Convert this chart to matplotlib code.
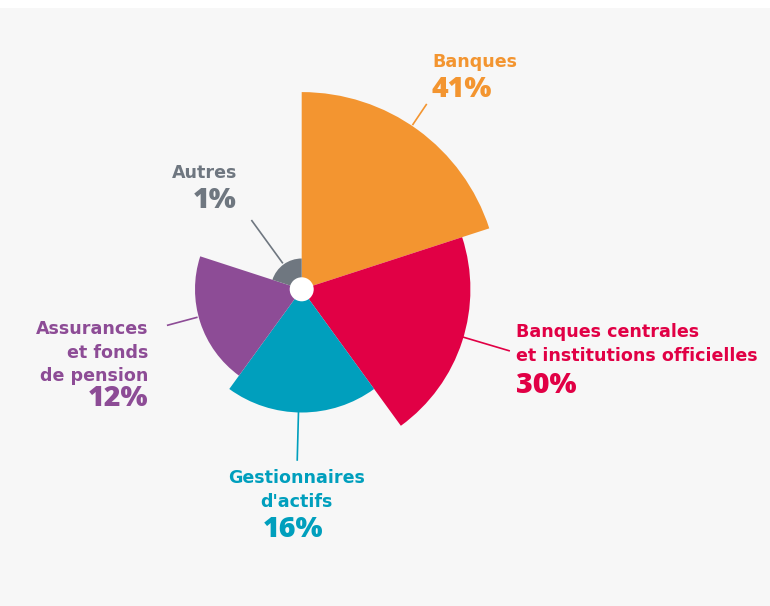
import numpy as np
import matplotlib
matplotlib.use("Agg")
import matplotlib.pyplot as plt

# data
categories = ["Banques", "Banques centrales\net institutions officielles",
              "Gestionnaires\nd'actifs", "Assurances\net fonds\nde pension", "Autres"]
shares = [41, 30, 16, 12, 1]
pct_labels = ["41%", "30%", "16%", "12%", "1%"]
colors = ["#F39530", "#E10045", "#009FBD", "#8D4C96", "#6F7780"]

W, H = 770, 606
BG = "#F7F7F7"

plt.rcParams['font.family'] = ['Open Sans', 'DejaVu Sans']

fig = plt.figure(figsize=(W / 100, H / 100), dpi=100)
fig.patch.set_facecolor("white")
# grey panel below a thin white strip at the top
fig.add_artist(plt.Rectangle((0, 0), 1, 1 - 8 / H, transform=fig.transFigure,
                             facecolor=BG, edgecolor="none", zorder=0))

# polar axes centred on the pie centre (301.7, 289.3) px
cx, cy = 301.7, 289.3
half = 250
px_per_unit = 30.8
ax = fig.add_axes([(cx - half) / W, (H - cy - half) / H, 2 * half / W, 2 * half / H],
                  projection="polar")
ax.set_theta_zero_location("N")
ax.set_theta_direction(-1)
ax.set_ylim(0, half / px_per_unit)
ax.axis("off")
ax.patch.set_alpha(0)

n = len(shares)
width = 2 * np.pi / n
theta = np.arange(n) * width + width / 2
radius = np.sqrt(shares)
ax.bar(theta, radius, width=width, color=colors, linewidth=0, align="center")
# white hole in the middle
ax.bar(0, 0.39, width=2 * np.pi, color="white", linewidth=0, bottom=0)

# leader lines: (angle clockwise from north in deg, r start, r end)
leaders = [(34, 6.43, 7.26), (106.5, 5.45, 7.05), (181.5, 3.96, 5.57),
           (255, 3.5, 4.53), (324, 1.04, 2.78)]
for (ang, r0, r1), col in zip(leaders, colors):
    t = np.deg2rad(ang)
    ax.plot([t, t], [r0, r1], color=col, lw=1.2, solid_capstyle="butt", clip_on=False)

# label positions in pixels: (x, baseline of first line, ha)
label_pos = [(432, 66.7, "left"), (516, 337.3, "left"), (296.5, 483.3, "center"),
             (148, 334.3, "right"), (237, 177.5, "right")]
line_gap = 23.3
pct_gap = [30, 32.5, 30, 25, 30]

for i, (x, y, ha) in enumerate(label_pos):
    lines = categories[i].split("\n")
    for k, line in enumerate(lines):
        fig.text(x / W, 1 - (y + k * line_gap) / H, line, ha=ha, va="baseline",
                 color=colors[i], fontsize=12.6, fontweight="bold",
                 family=["DejaVu Sans"])
    yp = y + (len(lines) - 1) * line_gap + pct_gap[i]
    xp = x - 3 if ha == "center" else x
    fig.text(xp / W, 1 - yp / H, pct_labels[i], ha=ha, va="baseline",
             color=colors[i], fontsize=20.5, fontweight="heavy")

fig.savefig("out.png", dpi=100, facecolor=fig.get_facecolor())
